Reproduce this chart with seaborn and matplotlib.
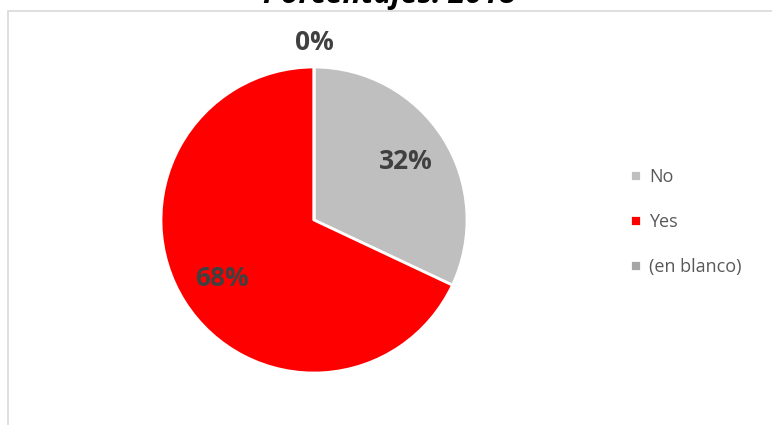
import matplotlib
matplotlib.use("Agg")
import matplotlib.pyplot as plt
from matplotlib.patches import Rectangle
import seaborn as sns

# Share of answers for 2018
categories = ["No", "Yes", "(en blanco)"]
percentages = [32, 68, 0]
colors = ["#BFBFBF", "#FF0000", "#A5A5A5"]
title = "Porcentajes: 2018"

sns.set_theme(style="white")
plt.rcParams["font.family"] = ["Open Sans", "DejaVu Sans"]

fig = plt.figure(figsize=(7.72, 4.25), dpi=100)

# Light chart-area frame (extends past the right and bottom edges)
fig.patches.append(Rectangle((8 / 772, -0.2), 1.2, 1.2 - 11 / 425,
                             transform=fig.transFigure, fill=False,
                             edgecolor="#D9D9D9", linewidth=1.2, zorder=0))

ax = fig.add_axes([161 / 772, 52 / 425, 306 / 772, 306 / 425])
wedges, texts, autotexts = ax.pie(
    percentages,
    colors=colors,
    startangle=90,
    counterclock=False,
    radius=1.0,
    autopct=lambda p: f"{p:.0f}%",
    pctdistance=0.71,
    wedgeprops=dict(edgecolor="white", linewidth=2),
    textprops=dict(color="#404040", fontsize=19, fontweight="bold"),
)
ax.set_xlim(-1, 1)
ax.set_ylim(-1, 1)
ax.set_aspect("equal")
ax.axis("off")

# The empty category sits at the top; push its label outside the pie
autotexts[2].set_position((0.0, 1.16))

ax.legend(wedges, categories, loc="center left",
          bbox_to_anchor=((630 - 161) / 306, 0.4935),
          bbox_transform=ax.transAxes, frameon=False,
          borderpad=0, borderaxespad=0,
          handlelength=0.6, handleheight=0.6, handletextpad=0.45,
          labelspacing=1.5, fontsize=13, labelcolor="#595959")

fig.text(389 / 772, 1 - 3 / 425, title, ha="center", va="baseline",
         fontsize=22, fontweight="bold", fontstyle="italic", color="#000000")

fig.savefig("out.png", dpi=100)
